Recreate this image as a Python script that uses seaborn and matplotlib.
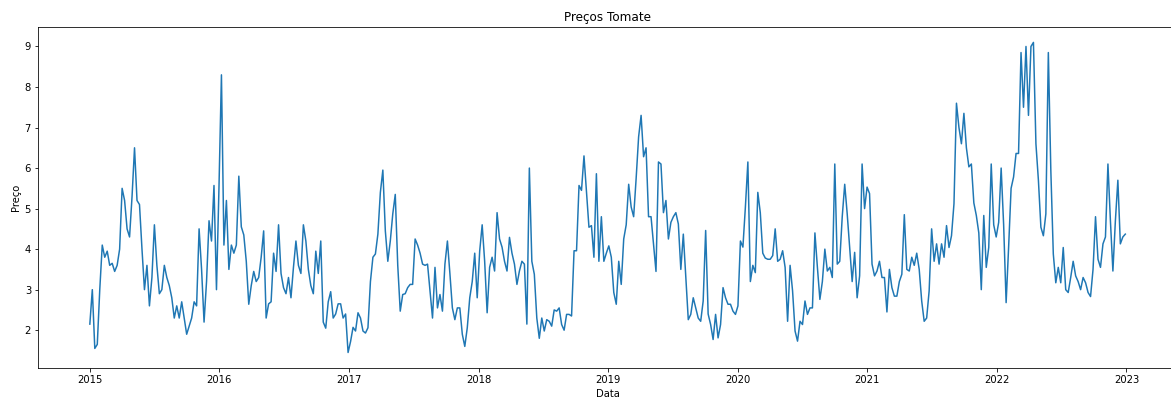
import matplotlib
matplotlib.use("Agg")
import matplotlib.pyplot as plt
import seaborn as sns
import numpy as np
import pandas as pd

# Weekly tomato prices, one list per year (first week starts 2015-01-01)
preco_2015 = [2.15, 3.0, 1.55, 1.65, 3.0, 4.1, 3.8, 3.95, 3.6, 3.65,
              3.45, 3.6, 4.0, 5.5, 5.2, 4.5, 4.3, 5.3, 6.5, 5.2,
              5.1, 4.0, 3.0, 3.6, 2.6, 3.3, 4.6, 3.6, 2.9, 3.0,
              3.6, 3.3, 3.1, 2.8, 2.3, 2.6, 2.3, 2.7, 2.3, 1.9,
              2.1, 2.3, 2.7, 2.6, 4.5, 3.5, 2.2, 3.2, 4.7, 4.2,
              5.57, 3.0]
preco_2016 = [5.5, 8.3, 4.1, 5.2, 3.5, 4.1, 3.9, 4.1, 5.8, 4.55,
              4.35, 3.7, 2.64, 3.1, 3.45, 3.2, 3.3, 3.8, 4.45, 2.3,
              2.65, 2.7, 3.9, 3.45, 4.6, 3.4, 3.05, 2.9, 3.3, 2.8,
              3.55, 4.2, 3.6, 3.4, 4.6, 4.2, 3.5, 3.1, 2.9, 3.95,
              3.4, 4.2, 2.2, 2.05, 2.7, 2.95, 2.3, 2.4, 2.65, 2.65,
              2.3, 2.4]
preco_2017 = [1.45, 1.72, 2.07, 1.98, 2.43, 2.3, 1.98, 1.93, 2.06, 3.2,
              3.8, 3.88, 4.37, 5.4, 5.95, 4.45, 3.7, 4.2, 4.87, 5.35,
              3.6, 2.47, 2.88, 2.9, 3.05, 3.13, 3.13, 4.25, 4.1, 3.9,
              3.63, 3.6, 3.63, 2.97, 2.3, 3.55, 2.55, 2.88, 2.47, 3.63,
              4.2, 3.4, 2.55, 2.26, 2.55, 2.55, 1.9, 1.6, 2.06, 2.8,
              3.2, 3.9]
preco_2018 = [2.8, 3.95, 4.6, 3.7, 2.43, 3.55, 3.8, 3.46, 4.9, 4.25,
              4.05, 3.7, 3.46, 4.29, 3.9, 3.63, 3.13, 3.46, 3.7, 3.63,
              2.15, 6.0, 3.7, 3.38, 2.3, 1.8, 2.3, 1.98, 2.26, 2.22,
              2.1, 2.5, 2.47, 2.55, 2.14, 2.0, 2.39, 2.39, 2.35, 3.96,
              3.96, 5.57, 5.45, 6.3, 5.4, 4.54, 4.58, 3.8, 5.86, 3.7,
              4.8, 3.7]
preco_2019 = [3.9, 4.08, 3.8, 2.93, 2.64, 3.7, 3.13, 4.25, 4.6, 5.6,
              5.04, 4.8, 5.74, 6.77, 7.3, 6.28, 6.5, 4.8, 4.8, 4.13,
              3.45, 6.15, 6.1, 4.9, 5.2, 4.25, 4.66, 4.8, 4.9, 4.62,
              3.5, 4.37, 3.3, 2.26, 2.39, 2.8, 2.55, 2.3, 2.22, 2.72,
              4.46, 2.4, 2.14, 1.77, 2.39, 1.81, 2.14, 3.05, 2.8, 2.64,
              2.64, 2.47]
preco_2020 = [2.39, 2.6, 4.2, 4.05, 5.04, 6.15, 3.2, 3.6, 3.42, 5.4,
              4.9, 3.9, 3.78, 3.75, 3.75, 3.84, 4.5, 3.7, 3.75, 3.96,
              3.55, 2.22, 3.6, 2.97, 1.98, 1.73, 2.22, 2.14, 2.72, 2.39,
              2.55, 2.55, 4.4, 3.55, 2.76, 3.2, 4.0, 3.46, 3.55, 3.3,
              6.1, 3.63, 3.7, 4.8, 5.6, 4.87, 4.05, 3.2, 3.92, 2.8,
              3.34, 6.1]
preco_2021 = [5.0, 5.53, 5.37, 3.63, 3.34, 3.46, 3.7, 3.3, 3.3, 2.45,
              3.5, 3.05, 2.84, 2.84, 3.2, 3.38, 4.85, 3.5, 3.46, 3.8,
              3.6, 3.9, 3.5, 2.72, 2.22, 2.3, 2.97, 4.5, 3.7, 4.13,
              3.63, 4.13, 3.8, 4.58, 4.04, 4.33, 5.12, 7.6, 7.0, 6.6,
              7.35, 6.5, 6.03, 6.1, 5.14, 4.83, 4.4, 3.0, 4.83, 3.55,
              4.04, 6.1]
preco_2022 = [4.6, 4.3, 4.66, 6.0, 4.6, 2.68, 4.04, 5.5, 5.78, 6.36,
              6.36, 8.85, 7.5, 9.0, 7.3, 9.0, 9.1, 6.6, 5.7, 4.54,
              4.33, 4.87, 8.85, 5.95, 3.88, 3.17, 3.55, 3.17, 4.04, 3.0,
              2.93, 3.3, 3.7, 3.34, 3.2, 3.0, 3.3, 3.17, 2.93, 2.83,
              3.5, 4.8, 3.75, 3.55, 4.13, 4.3, 6.1, 4.7, 3.46, 4.7,
              5.7, 4.13, 4.3, 4.37]

precos = (preco_2015 + preco_2016 + preco_2017 + preco_2018 +
          preco_2019 + preco_2020 + preco_2021 + preco_2022)
datas = pd.date_range("2015-01-01", periods=len(precos), freq="7D")

df = pd.DataFrame({"Data": datas, "Preço": precos})

DPI = 72
fig = plt.figure(figsize=(1171 / DPI, 398 / DPI), dpi=DPI)
ax = fig.add_axes([0.0325, 0.0754, 0.9727, 0.857])
sns.lineplot(data=df, x="Data", y="Preço", ax=ax, color="#1f77b4", linewidth=1.5)
ax.set_title("Preços Tomate")
ax.set_xlabel("Data")
ax.set_ylabel("Preço")

fig.savefig("out.png", dpi=DPI)
